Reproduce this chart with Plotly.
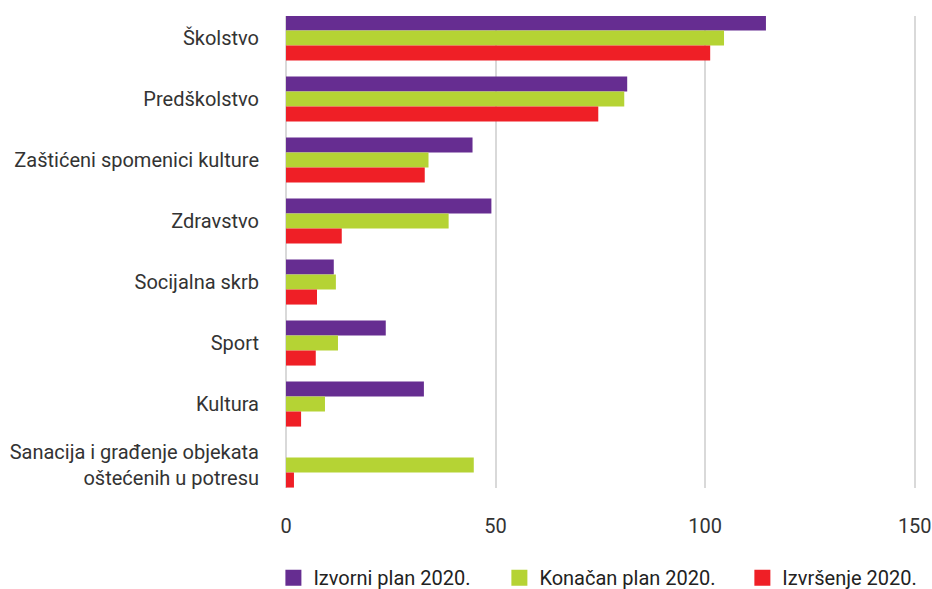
import plotly.graph_objects as go

categories = ["Školstvo", "Predškolstvo", "Zaštićeni spomenici kulture", "Zdravstvo",
              "Socijalna skrb", "Sport", "Kultura",
              "Sanacija i građenje objekata<br>oštećenih u potresu"]
izvorni = [114.5, 81.4, 44.5, 49.0, 11.4, 23.8, 32.9, 0]
konacan = [104.5, 80.7, 34.0, 38.8, 11.9, 12.4, 9.3, 44.8]
izvrsenje = [101.2, 74.5, 33.1, 13.3, 7.4, 7.1, 3.6, 1.9]
series_names = ["Izvorni plan 2020.", "Konačan plan 2020.", "Izvršenje 2020."]
colors = ["#662D91", "#B5D334", "#EF1F26"]
x_ticks = [0, 50, 100, 150]

fig = go.Figure()
for name, vals, col in zip(series_names, [izvorni, konacan, izvrsenje], colors):
    fig.add_trace(go.Bar(y=categories, x=vals, orientation="h", name=name,
                         marker=dict(color=col, line=dict(width=0)), showlegend=False))
legend_ids = ["legend", "legend2", "legend3"]
legend_x = [-0.02, 0.3387, 0.7244]
for name, col, lid in zip(series_names, colors, legend_ids):
    fig.add_trace(go.Scatter(x=[None], y=[None], mode="markers", name=name, legend=lid,
                             marker=dict(symbol="square", size=16, color=col)))

font = "Roboto"
leg_common = dict(orientation="h", xanchor="left", y=-0.19, yanchor="middle",
                  font=dict(size=20, color="#222222"), itemwidth=30, itemclick=False,
                  bgcolor="rgba(0,0,0,0)")
fig.update_layout(
    width=932, height=589,
    margin=dict(l=286, r=16, t=16, b=101, autoexpand=False),
    barmode="group", bargap=0.26, bargroupgap=0,
    plot_bgcolor="white", paper_bgcolor="white",
    font=dict(family=font, size=20, color="#333333"),
    showlegend=True,
    legend=dict(x=legend_x[0], **leg_common),
    legend2=dict(x=legend_x[1], **leg_common),
    legend3=dict(x=legend_x[2], **leg_common),
    xaxis=dict(range=[0, 150.3], tickvals=x_ticks, showgrid=True, gridcolor="#d9d9d9",
               gridwidth=1.5, zeroline=True, zerolinecolor="#d9d9d9", zerolinewidth=1.5,
               showline=False, ticks="", ticklabelstandoff=24, ticklabeloverflow="allow",
               tickfont=dict(size=20, color="#333333")),
    yaxis=dict(type="category", categoryorder="array", categoryarray=categories,
               range=[7.377, -0.36], showgrid=False, zeroline=False, showline=False,
               ticks="", ticklabelstandoff=26, tickfont=dict(size=20, color="#333333")),
)
fig.write_html("out.html")
